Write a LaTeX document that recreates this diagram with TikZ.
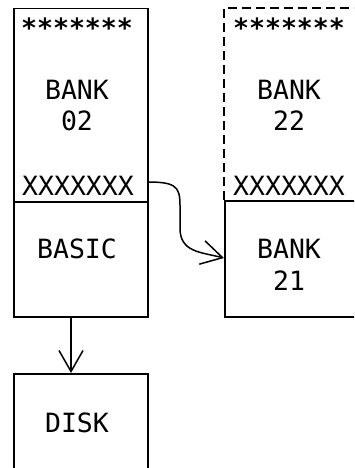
\documentclass[tikz,border=0pt]{standalone}
\usepackage{fontspec}
\setmonofont{DejaVu Sans Mono}
\usetikzlibrary{arrows.meta}
\tikzset{
  x=1pt, y=-1pt,
  box/.style={draw, line width=1.5pt},
  dbox/.style={draw, line width=1.5pt, dash pattern=on 9pt off 5pt},
  lbl/.style={inner sep=0pt, anchor=base, font=\ttfamily\fontsize{26.5}{30}\selectfont},
  stars/.style={lbl, font=\ttfamily\bfseries\fontsize{26.5}{30}\selectfont},
  link/.style={line width=1.5pt, -{Straight Barb[length=21pt,width=24pt,line width=1.5pt]}},
}
\begin{document}
\begin{tikzpicture}
\clip (0,0) rectangle (354,468);
\fill[white] (0,0) rectangle (354,468);
% right column, dashed top part
\draw[dbox] (224,200) coordinate (b22sw) -- (224,8) -- (370,8);
\node[box, minimum width=146pt, minimum height=116pt, anchor=north west, inner sep=0pt] (bank21) at (224,200) {};
% left column
\node[box, minimum width=134pt, minimum height=193pt, anchor=north west, inner sep=0pt] (bank02) at (13,8) {};
\node[box, minimum width=134pt, minimum height=115pt, anchor=north west, inner sep=0pt] (basic) at (13,201) {};
\node[box, minimum width=134pt, minimum height=120pt, anchor=north west, inner sep=0pt] (disk) at (13,373) {};
% texts
\node[stars] (s1) at (77,38) {*******};
\node[lbl] (t1) at (77,100) {BANK};
\node[lbl] (t2) at (77,130) {02};
\node[lbl] (x1) at (78,195) {XXXXXXX};
\node[lbl] (t3) at (77,258) {BASIC};
\node[lbl] (t4) at (77,432) {DISK};
\node[stars] (s2) at (289,38) {*******};
\node[lbl] (t5) at (289,100) {BANK};
\node[lbl] (t6) at (289,130) {22};
\node[lbl] (x2) at (289,195) {XXXXXXX};
\node[lbl] (t7) at (289,258) {BANK};
\node[lbl] (t8) at (289,290) {21};
% connectors
\coordinate (cstart) at (bank02.east |- 0,182);
\coordinate (cend) at (bank21.west |- 0,258);
\draw[link] (cstart) .. controls (182,182) and (180,190) .. (180,215)
   -- (180,228) .. controls (180,252) and (200,252) .. (cend);
\draw[link] (basic.south -| 71,0) -- (disk.north -| 71,0);
\end{tikzpicture}
\end{document}
